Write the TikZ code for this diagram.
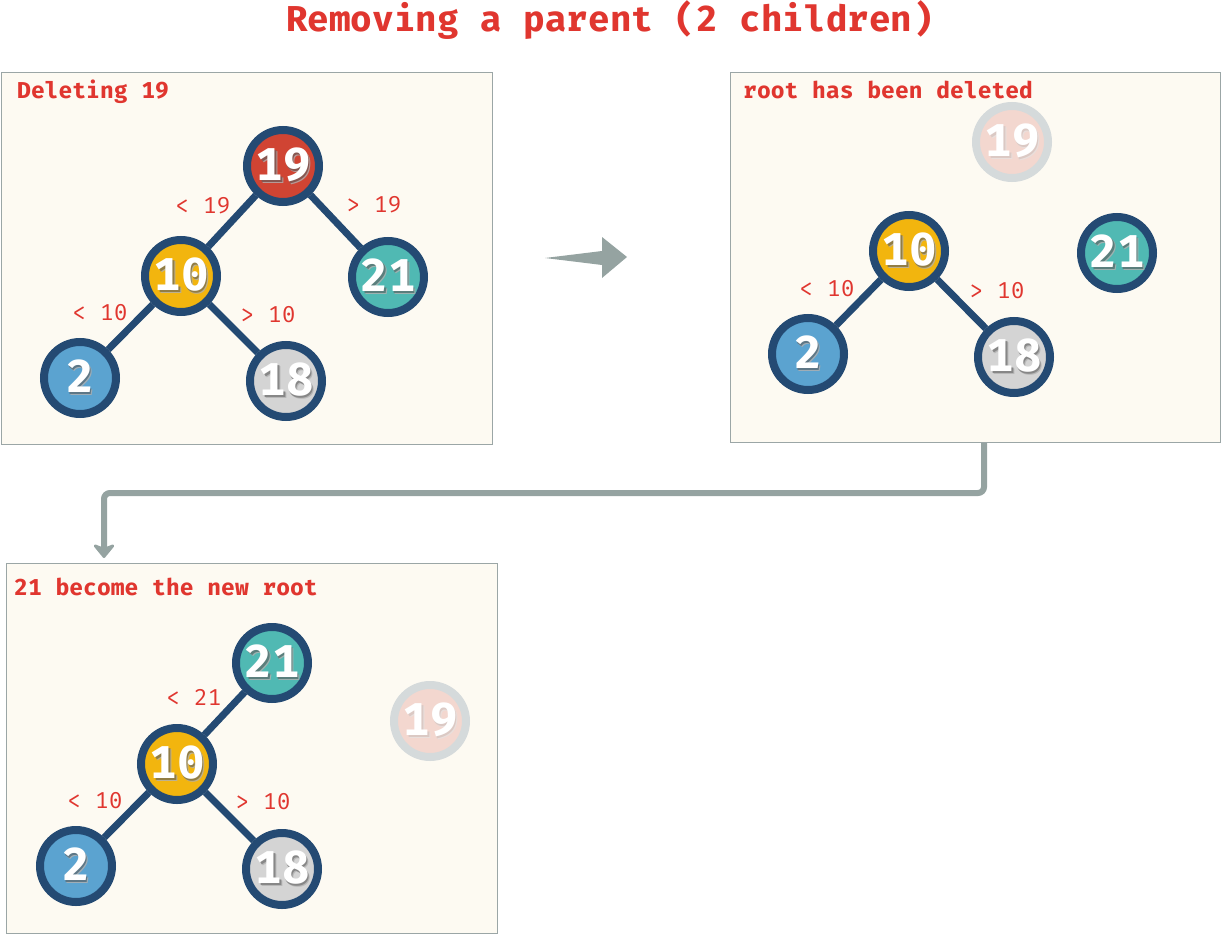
\documentclass[tikz,border=0pt]{standalone}
\usepackage{fontspec}
\newfontfamily\fm{Fira Mono}[BoldFont={Fira Mono Bold}]
\usetikzlibrary{arrows.meta}
\definecolor{txtred}{HTML}{E0362F}
\definecolor{panelfill}{HTML}{FDFAF2}
\definecolor{panelline}{HTML}{9BA6A6}
\definecolor{nodeline}{HTML}{244A73}
\definecolor{cred}{HTML}{D04433}
\definecolor{cyellow}{HTML}{F2B50E}
\definecolor{cteal}{HTML}{50B9B3}
\definecolor{cblue}{HTML}{5BA3D0}
\definecolor{cgrey}{HTML}{D4D4D4}
\definecolor{ghostfill}{HTML}{F3D7CF}
\definecolor{ghostline}{HTML}{D5DADB}
\definecolor{arrowgrey}{HTML}{95A3A1}
\newcommand\numtxt[2]{%
  \rlap{\kern2.6pt\raisebox{-3pt}{\textcolor{#1!45}{#2}}}%
  \rlap{\kern1.6pt\raisebox{-1.9pt}{\textcolor{#1!75}{#2}}}%
  #2}
\tikzset{
  panel/.style={draw=panelline, fill=panelfill, line width=1pt, anchor=north west, inner sep=0pt},
  tnode/.style={circle, draw=nodeline, line width=8pt, minimum size=72pt, inner sep=0pt, text=white,
    font=\fm\bfseries\fontsize{46}{46}\selectfont},
  ghost/.style={tnode, draw=ghostline, fill=ghostfill},
  edge/.style={draw=nodeline, line width=7pt},
  elabel/.style={text=txtred, font=\fm\fontsize{23}{23}\selectfont, inner sep=0pt},
  ptitle/.style={text=txtred, font=\fm\bfseries\fontsize{23}{23}\selectfont, anchor=base west, inner sep=0pt},
  conn/.style={draw=arrowgrey, line width=6pt, rounded corners=6pt},
}
\begin{document}
\begin{tikzpicture}[x=1pt,y=-1pt]
\useasboundingbox (0,0) rectangle (1221,934);
% title
\node[anchor=base, text=txtred, font=\fm\bfseries\fontsize{36}{36}\selectfont, inner sep=0pt] (title) at (610,32) {Removing a parent (2 children)};
% panels
\node[panel, minimum width=491pt, minimum height=371pt] (p1) at (0.5,72.5) {};
\node[panel, minimum width=490.5pt, minimum height=369.5pt] (p2) at (729.5,72.5) {};
\node[panel, minimum width=491pt, minimum height=370.5pt] (p3) at (5.5,562.5) {};
\node[ptitle] (t1) at (17,99) {Deleting 19};
\node[ptitle] (t2) at (743,99) {root has been deleted};
\node[ptitle] (t3) at (14,595) {21 become the new root};
% panel 1
\node[tnode, fill=cred] (a19) at (283,166) {\numtxt{cred!45!black}{19}};
\node[tnode, fill=cyellow] (a10) at (181,276) {\numtxt{cyellow!45!black}{10}};
\node[tnode, fill=cteal] (a21) at (388,277) {\numtxt{cteal!45!black}{21}};
\node[tnode, fill=cblue] (a2) at (80,378) {\numtxt{cblue!45!black}{2}};
\node[tnode, fill=cgrey] (a18) at (286,381) {\numtxt{cgrey!45!black}{18}};
\draw[edge] (a19) -- (a10);
\draw[edge] (a19) -- (a21);
\draw[edge] (a10) -- (a2);
\draw[edge] (a10) -- (a18);
\node[elabel] (la1) at (203,206) {< 19};
\node[elabel] (la2) at (374,205) {> 19};
\node[elabel] (la3) at (100,313) {< 10};
\node[elabel] (la4) at (268,315) {> 10};
% middle arrow
\fill[arrowgrey] (545,258) -- (602,251) -- (602,237) -- (627,257) -- (602,278) -- (602,265) -- cycle;
% panel 2
\node[ghost] (b19) at (1012,142) {\numtxt{ghostfill!85!black}{19}};
\node[tnode, fill=cyellow] (b10) at (909,251) {\numtxt{cyellow!45!black}{10}};
\node[tnode, fill=cteal] (b21) at (1117,253) {\numtxt{cteal!45!black}{21}};
\node[tnode, fill=cblue] (b2) at (808,354) {\numtxt{cblue!45!black}{2}};
\node[tnode, fill=cgrey] (b18) at (1014,357) {\numtxt{cgrey!45!black}{18}};
\draw[edge] (b10) -- (b2);
\draw[edge] (b10) -- (b18);
\node[elabel] (lb1) at (827,289) {< 10};
\node[elabel] (lb2) at (997,291) {> 10};
% connector
\coordinate (k1) at (984,493);
\coordinate (k2) at (104,493);
\coordinate (k3) at (104,558);
\draw[conn, -{Stealth[length=16pt,width=26pt,inset=5pt,round]}] (p2.south -| k1) -- (k1) -- (k2) -- (k3);
% panel 3
\node[tnode, fill=cteal] (c21) at (272,663) {\numtxt{cteal!45!black}{21}};
\node[tnode, fill=cyellow] (c10) at (177,764) {\numtxt{cyellow!45!black}{10}};
\node[tnode, fill=cblue] (c2) at (76,866) {\numtxt{cblue!45!black}{2}};
\node[tnode, fill=cgrey] (c18) at (282,869) {\numtxt{cgrey!45!black}{18}};
\node[ghost] (c19) at (430,721) {\numtxt{ghostfill!85!black}{19}};
\draw[edge] (c21) -- (c10);
\draw[edge] (c10) -- (c2);
\draw[edge] (c10) -- (c18);
\node[elabel] (lc1) at (194,697) {< 21};
\node[elabel] (lc2) at (95,801) {< 10};
\node[elabel] (lc3) at (263,802) {> 10};
\end{tikzpicture}
\end{document}
